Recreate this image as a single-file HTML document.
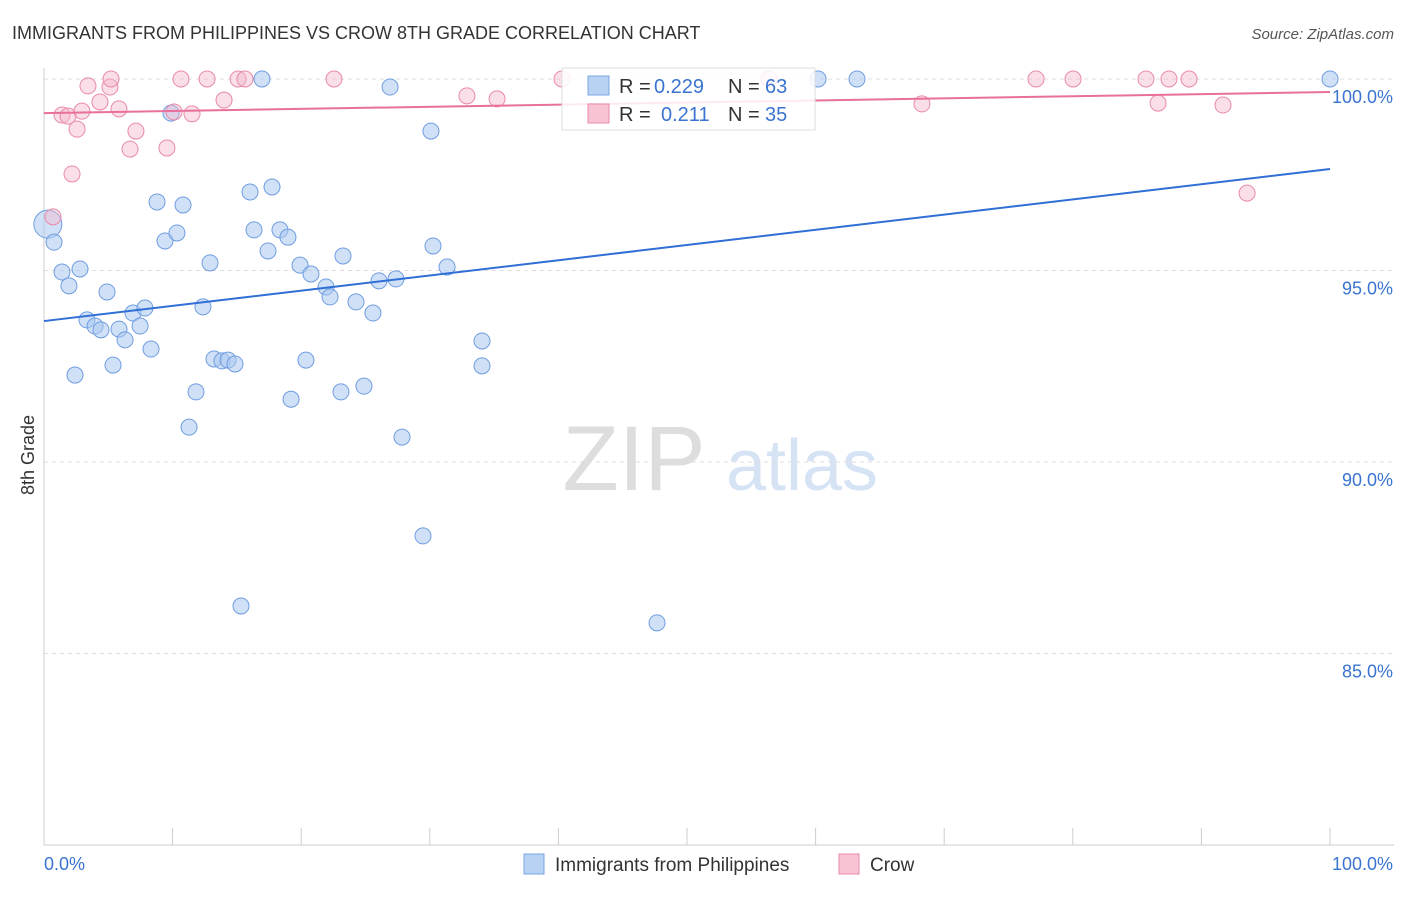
<!DOCTYPE html>
<html><head><meta charset="utf-8"><style>
body{margin:0;background:#fff;font-family:"Liberation Sans",sans-serif;}
svg text{font-family:"Liberation Sans",sans-serif;}
</style></head><body>
<svg id="c" width="1406" height="892" xmlns="http://www.w3.org/2000/svg">
<text x="12" y="39" font-size="18" fill="#333">IMMIGRANTS FROM PHILIPPINES VS CROW 8TH GRADE CORRELATION CHART</text>
<text x="1394" y="39" font-size="15" fill="#555" font-style="italic" text-anchor="end">Source: ZipAtlas.com</text>
<text x="34" y="455" font-size="18" fill="#333" text-anchor="middle" transform="rotate(-90 34 455)">8th Grade</text>
<g>
<text x="634" y="490" font-size="92" fill="#ddd" font-family="Liberation Serif" text-anchor="middle">ZIP</text>
<text x="802" y="490" font-size="72" fill="#d5e3f5" text-anchor="middle">atlas</text>
</g>
<g id="grid"></g>
<g id="pts"></g>
<g id="lines"></g>
<g>
<rect x="562" y="68" width="253" height="62" fill="#fff" fill-opacity="0.85" stroke="#ddd"/>
<rect x="588" y="76" width="21" height="19" fill="#b8d2f4" stroke="#7ba6e0"/>
<text x="619" y="93" font-size="20" fill="#333">R = </text><text x="654" y="93" font-size="20" fill="#3a74d0">0.229</text>
<text x="728" y="93" font-size="20" fill="#333">N = </text><text x="765" y="93" font-size="20" fill="#3a74d0">63</text>
<rect x="588" y="104" width="21" height="19" fill="#f8c3d3" stroke="#e98aa8"/>
<text x="619" y="121" font-size="20" fill="#333">R = </text><text x="661" y="121" font-size="20" fill="#3a74d0">0.211</text>
<text x="728" y="121" font-size="20" fill="#333">N = </text><text x="765" y="121" font-size="20" fill="#3a74d0">35</text>
</g>
<g>
<rect x="524" y="854" width="20" height="20" fill="#b8d2f4" stroke="#7ba6e0"/>
<text x="555" y="871" font-size="19" fill="#333">Immigrants from Philippines</text>
<rect x="839" y="854" width="20" height="20" fill="#f8c3d3" stroke="#e98aa8"/>
<text x="870" y="871" font-size="19" fill="#333">Crow</text>
</g>
<text x="44" y="870" font-size="18" fill="#3a74d0">0.0%</text>
<text x="1393" y="870" font-size="18" fill="#3a74d0" text-anchor="end">100.0%</text>
</svg>
<script>
const blueX=[0.3,0.78,1.4,1.94,2.8,3.34,3.97,4.43,4.9,5.37,2.41,5.83,6.3,6.92,7.47,7.85,8.32,8.79,9.41,9.88,10.34,10.81,11.28,11.82,12.36,12.91,13.22,13.84,14.31,14.85,15.32,16.02,16.33,16.95,17.42,17.73,18.35,18.97,19.21,19.91,20.37,20.76,21.93,22.24,23.09,23.25,24.26,24.88,25.58,26.05,26.91,27.37,27.84,29.47,30.09,30.25,31.34,34.06,34.06,47.67,60.19,63.22,100];
const blueY=[96.21,95.74,94.96,94.6,95.04,93.71,93.55,93.45,94.44,92.53,92.27,93.47,93.19,93.89,93.55,94.02,92.95,96.79,95.77,99.11,95.98,96.71,90.91,91.83,94.05,95.2,92.69,92.64,92.66,92.56,86.24,97.05,96.06,100,95.51,97.18,96.06,95.87,91.64,95.14,92.66,94.91,94.57,94.31,91.83,95.38,94.18,91.98,93.89,94.73,99.79,94.78,90.65,88.07,98.64,95.64,95.09,93.16,92.51,85.8,100,100,100];
const pinkX=[0.7,1.4,1.87,2.57,2.18,2.95,3.42,4.35,5.13,5.21,5.83,6.69,7.15,9.56,10.11,10.65,11.51,12.68,14,15.09,15.63,22.55,32.89,35.23,40.28,56.38,68.27,77.14,80.02,85.69,86.63,87.48,89.04,91.68,93.55];
const pinkY=[96.4,99.06,99.03,98.69,97.52,99.16,99.82,99.4,99.79,100,99.22,98.17,98.64,98.2,99.14,100,99.09,100,99.45,100,100,100,99.56,99.48,100,100,99.35,100,100,100,99.37,100,100,99.32,97.02];
const blueTrend=[93.68,97.65];
const pinkTrend=[99.11,99.66];
const yTicks=[100,95,90,85];
const yTickLabels=["100.0%","95.0%","90.0%","85.0%"];
const xTicks=[0,10,20,30,40,50,60,70,80,90,100];
const NS="http://www.w3.org/2000/svg";
const sx=v=>44+v*12.86, sy=v=>79+(100-v)*38.3;
function mk(t,a,p){const e=document.createElementNS(NS,t);for(const k in a)e.setAttribute(k,a[k]);p.appendChild(e);return e;}
const g=document.getElementById('grid');
yTicks.forEach((v,i)=>{
 const l=mk('line',{x1:44,x2:1394,y1:sy(v),y2:sy(v),stroke:'#ddd','stroke-dasharray':'4,4'},g);
 
 
 const t=mk('text',{x:1393,y:sy(v)+24,'font-size':18,fill:'#3a74d0','text-anchor':'end'},g);
 t.textContent=yTickLabels[i];
 
 
});
mk('line',{x1:44,x2:44,y1:68,y2:845,stroke:'#ccc'},g);
mk('line',{x1:44,x2:1394,y1:845,y2:845,stroke:'#ccc'},g);
xTicks.forEach(v=>{
 const l=mk('line',{x1:sx(v),x2:sx(v),y1:828,y2:845,stroke:'#ccc'},g);
 
 
});
const p=document.getElementById('pts');
blueX.forEach((x,i)=>{
 const c=mk('circle',{cx:sx(x),cy:sy(blueY[i]),r:i==0?14:8,fill:'#a9c8f0','fill-opacity':0.55,stroke:'#6f9de0','stroke-width':1},p);
 
 
});
pinkX.forEach((x,i)=>{
 const c=mk('circle',{cx:sx(x),cy:sy(pinkY[i]),r:8,fill:'#f5b8cb','fill-opacity':0.45,stroke:'#e98aa8','stroke-width':1},p);
 
 
});
const L=document.getElementById('lines');
const b=mk('line',{x1:sx(0),x2:sx(100),y1:sy(blueTrend[0]),y2:sy(blueTrend[1]),stroke:'#2f6fd6','stroke-width':2},L);


const r=mk('line',{x1:sx(0),x2:sx(100),y1:sy(pinkTrend[0]),y2:sy(pinkTrend[1]),stroke:'#e8709a','stroke-width':2},L);


</script>
</body></html>
